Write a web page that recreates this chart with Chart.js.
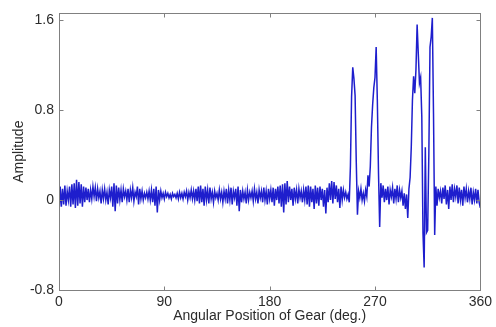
<!doctype html>
<html lang="en">
<head>
<meta charset="utf-8">
<title>Amplitude vs Angular Position of Gear</title>
<script src="https://cdn.jsdelivr.net/npm/chart.js"></script>
<style>
  * { margin: 0; padding: 0; }
  body { background: #fff; }
  #gearChart { display: block; }
</style>
</head>
<body>
<canvas id="gearChart" width="496" height="327"></canvas>
<script>
// tick positions / labels
const xTicks = [0, 90, 180, 270, 360];
const yTicks = [-0.8, 0, 0.8, 1.6];

// amplitude, one sample per degree
const amp000 = [
  -0.12, 0.12, -0.06, 0.10, -0.04, 0.13, -0.05, 0.08, 0.00, 0.12,
  -0.06, 0.14, -0.04, 0.15, -0.07, 0.18, -0.05, 0.16, -0.03, 0.14,
  -0.06, 0.12, -0.02, 0.11, 0.00, 0.10, -0.02, 0.09, 0.01, 0.12,
  0.03, 0.11, -0.01, 0.10, 0.02, 0.08, -0.03, 0.09, 0.01, 0.10,
  0.00, 0.07, -0.04, 0.09, 0.02, 0.12, -0.06, 0.15, -0.10, 0.13,
  -0.03, 0.11, 0.00, 0.09, -0.02, 0.10, 0.03, 0.08, 0.00, 0.10
];
const amp060 = [
  -0.02, 0.09, 0.02, 0.11, -0.01, 0.07, 0.03, 0.12, -0.04, 0.10,
  0.01, 0.08, 0.00, 0.06, 0.02, 0.07, 0.01, 0.08, 0.00, 0.09,
  -0.02, 0.10, -0.05, 0.12, -0.11, 0.09, 0.00, 0.08, 0.02, 0.06,
  0.01, 0.07, 0.03, 0.06, 0.02, 0.05, 0.01, 0.06, 0.03, 0.05,
  0.02, 0.06, 0.01, 0.07, 0.02, 0.06, 0.01, 0.07, 0.03, 0.08,
  0.00, 0.07, 0.02, 0.09, 0.01, 0.08, 0.00, 0.10, -0.01, 0.12
];
const amp120 = [
  -0.03, 0.13, -0.02, 0.10, -0.05, 0.12, 0.00, 0.09, -0.03, 0.11,
  0.01, 0.07, -0.02, 0.08, 0.02, 0.06, 0.00, 0.09, 0.01, 0.07,
  -0.02, 0.08, 0.01, 0.10, -0.03, 0.09, 0.00, 0.11, -0.04, 0.08,
  0.02, 0.10, -0.05, 0.12, -0.10, 0.09, -0.02, 0.08, 0.01, 0.07,
  -0.03, 0.09, 0.00, 0.07, 0.02, 0.08, -0.01, 0.10, 0.01, 0.07,
  -0.03, 0.09, 0.02, 0.08, -0.02, 0.11, 0.00, 0.08, -0.04, 0.10
];
const amp180 = [
  0.01, 0.09, -0.02, 0.11, -0.05, 0.10, 0.00, 0.12, -0.03, 0.13,
  -0.06, 0.14, -0.11, 0.15, -0.04, 0.17, -0.02, 0.12, 0.00, 0.10,
  -0.05, 0.11, 0.01, 0.09, -0.03, 0.10, 0.02, 0.08, -0.02, 0.09,
  0.00, 0.12, -0.04, 0.13, -0.06, 0.12, -0.02, 0.10, -0.08, 0.13,
  -0.03, 0.11, -0.05, 0.12, 0.00, 0.10, -0.06, 0.09, -0.12, 0.11,
  -0.02, 0.15, 0.00, 0.17, -0.03, 0.16, 0.01, 0.13, -0.02, 0.10
];
const amp240 = [
  -0.07, 0.12, 0.00, 0.09, 0.02, 0.07, 0.01, 0.05, -0.02, 0.30,
  0.92, 1.18, 1.08, 0.93, 0.34, -0.13, 0.08, 0.02, 0.10, 0.00,
  0.06, -0.01, 0.09, 0.03, 0.22, 0.12, 0.30, 0.65, 0.85, 1.00,
  1.09, 1.36, 0.89, 0.24, -0.24, 0.15, 0.02, 0.13, -0.02, 0.10,
  0.00, 0.12, -0.04, 0.09, 0.03, 0.11, -0.03, 0.10, 0.01, 0.13,
  -0.02, 0.09, 0.02, 0.08, -0.05, 0.06, -0.08, 0.05, -0.16, 0.10
];
const amp300 = [
  0.20, 0.47, 0.89, 1.10, 0.95, 1.16, 1.56, 1.30, 1.04, 1.09,
  0.74, -0.29, -0.60, 0.47, -0.29, -0.27, 0.40, 1.36, 1.45, 1.62,
  0.77, -0.31, 0.12, -0.05, 0.10, 0.02, 0.08, -0.03, 0.11, 0.01,
  0.13, -0.04, 0.09, -0.08, 0.12, 0.00, 0.14, -0.02, 0.10, 0.03,
  0.13, -0.03, 0.11, 0.00, 0.09, -0.05, 0.12, 0.02, 0.10, -0.02,
  0.08, 0.01, 0.11, -0.04, 0.07, 0.00, 0.10, -0.03, 0.09, -0.02,
  -0.07
];

const amplitude = [].concat(amp000, amp060, amp120, amp180, amp240, amp300);
const points = amplitude.map((v, deg) => ({ x: deg, y: v }));

const textFont = { family: "'Liberation Sans', Arial, sans-serif", size: 14 };
const textColor = '#2b2b2b';

// matlab style box with inward ticks on all four sides
const frame = {
  id: 'frame',
  afterDatasetsDraw(chart) {
    const { ctx, chartArea: a, scales: { x, y } } = chart;
    const L = Math.round(a.left) + 0.5, R = Math.round(a.right) + 0.5;
    const T = Math.round(a.top) + 0.5, B = Math.round(a.bottom) + 0.5;
    ctx.save();
    ctx.strokeStyle = '#808080';
    ctx.lineWidth = 1;
    ctx.strokeRect(L, T, R - L, B - T);
    ctx.beginPath();
    xTicks.forEach(v => {
      const px = Math.round(x.getPixelForValue(v)) + 0.5;
      ctx.moveTo(px, B); ctx.lineTo(px, B - 4);
      ctx.moveTo(px, T); ctx.lineTo(px, T + 4);
    });
    yTicks.forEach(v => {
      const py = Math.round(y.getPixelForValue(v)) + 0.5;
      ctx.moveTo(L, py); ctx.lineTo(L + 4, py);
      ctx.moveTo(R, py); ctx.lineTo(R - 4, py);
    });
    ctx.stroke();
    ctx.restore();
  }
};

new Chart(document.getElementById('gearChart'), {
  type: 'line',
  data: {
    datasets: [{
      data: points,
      borderColor: 'rgb(30, 30, 205)',
      borderWidth: 1.5,
      pointRadius: 0,
      tension: 0,
      fill: false
    }]
  },
  options: {
    responsive: false,
    animation: false,
    events: [],
    layout: { padding: { top: 13, right: 14, bottom: 0, left: 0 } },
    plugins: { legend: { display: false }, tooltip: { enabled: false } },
    scales: {
      x: {
        type: 'linear',
        min: 0,
        max: 360,
        afterBuildTicks: s => { s.ticks = xTicks.map(v => ({ value: v })); },
        afterFit: s => { s.height = 37; },
        grid: { display: false, drawTicks: false },
        border: { display: false },
        ticks: { font: textFont, color: textColor, padding: 4, maxRotation: 0, autoSkip: false,
                 callback: v => String(v) },
        title: { display: true, text: 'Angular Position of Gear (deg.)', font: textFont,
                 color: textColor, padding: { top: 0, bottom: 2 } }
      },
      y: {
        min: -0.8,
        max: 1.66,
        afterBuildTicks: s => { s.ticks = yTicks.map(v => ({ value: v })); },
        afterFit: s => { s.width = 59; },
        grid: { display: false, drawTicks: false },
        border: { display: false },
        ticks: { font: textFont, color: textColor, padding: 5, autoSkip: false,
                 callback: v => String(v) },
        title: { display: true, text: 'Amplitude', font: textFont, color: textColor,
                 padding: { top: 11, bottom: 0 } }
      }
    }
  },
  plugins: [frame]
});
</script>
</body>
</html>
